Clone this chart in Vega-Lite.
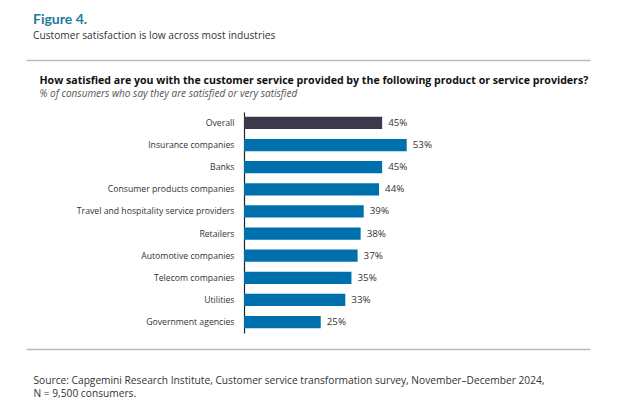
{
  "$schema": "https://vega.github.io/schema/vega-lite/v6.json",
  "autosize": {"type": "none"},
  "padding": {"left": 26, "top": 60, "right": 40, "bottom": 63},
  "width": 564,
  "height": 289,
  "background": "white",
  "config": {"view": {"stroke": null}, "font": "Open Sans"},
  "title": {
    "text": "Figure 4.",
    "subtitle": "Customer satisfaction is low across most industries",
    "anchor": "start",
    "frame": "group",
    "dx": 7,
    "offset": 19,
    "font": "Lato",
    "fontSize": 14,
    "fontWeight": "bold",
    "color": "#1a7aa0",
    "subtitleFont": "Open Sans",
    "subtitleFontSize": 10.2,
    "subtitleColor": "#333333",
    "subtitlePadding": 4
  },
  "data": {
    "values": [
      {"cat": "Overall", "value": 45, "label": "45%", "kind": "overall"},
      {"cat": "Insurance companies", "value": 53, "label": "53%", "kind": "industry"},
      {"cat": "Banks", "value": 45, "label": "45%", "kind": "industry"},
      {"cat": "Consumer products companies", "value": 44, "label": "44%", "kind": "industry"},
      {"cat": "Travel and hospitality service providers", "value": 39, "label": "39%", "kind": "industry"},
      {"cat": "Retailers", "value": 38, "label": "38%", "kind": "industry"},
      {"cat": "Automotive companies", "value": 37, "label": "37%", "kind": "industry"},
      {"cat": "Telecom companies", "value": 35, "label": "35%", "kind": "industry"},
      {"cat": "Utilities", "value": 33, "label": "33%", "kind": "industry"},
      {"cat": "Government agencies", "value": 25, "label": "25%", "kind": "industry"}
    ]
  },
  "encoding": {
    "y": {
      "field": "cat",
      "type": "nominal",
      "sort": null,
      "scale": {"range": [52, 273], "paddingInner": 0.45, "paddingOuter": 0.22},
      "axis": {
        "orient": "left",
        "offset": -218,
        "domainColor": "#222222",
        "domainWidth": 1.2,
        "ticks": false,
        "labelPadding": 10,
        "labelFontSize": 8.7,
        "labelColor": "#333333",
        "labelFont": "Open Sans",
        "title": "% of consumers who say they are satisfied or very satisfied",
        "titleAngle": 0,
        "titleX": -205,
        "titleY": 36,
        "titleAlign": "left",
        "titleBaseline": "alphabetic",
        "titleFont": "Open Sans",
        "titleFontSize": 10,
        "titleFontStyle": "italic",
        "titleFontWeight": "normal",
        "titleColor": "#555555"
      }
    }
  },
  "layer": [
    {
      "mark": {"type": "bar"},
      "encoding": {
        "color": {
          "field": "kind",
          "type": "nominal",
          "scale": {"domain": ["overall", "industry"], "range": ["#3a3a4c", "#0070ad"]},
          "legend": null
        },
        "x": {
          "field": "value",
          "type": "quantitative",
          "scale": {"domain": [-71, 112.7], "nice": false},
          "axis": {
            "orient": "bottom",
            "domain": true,
            "domainColor": "#bbbbbb",
            "domainWidth": 1.5,
            "ticks": false,
            "labels": false,
            "grid": false,
            "title": ["Source: Capgemini Research Institute, Customer service transformation survey, November–December 2024,", "N = 9,500 consumers."],
            "titleX": 7,
            "titleY": 34,
            "titleAlign": "left",
            "titleAnchor": "start",
            "titleBaseline": "alphabetic",
            "titleFont": "Open Sans",
            "titleFontSize": 10.2,
            "titleFontWeight": "normal",
            "titleColor": "#333333",
            "titleLineHeight": 13
          }
        }
      }
    },
    {
      "mark": {"type": "text", "align": "left", "baseline": "middle", "dx": 6, "font": "Open Sans", "fontSize": 9.8, "color": "#333333"},
      "encoding": {
        "text": {"field": "label"},
        "x": {
          "field": "value",
          "type": "quantitative",
          "scale": {"domain": [-71, 112.7], "nice": false},
          "axis": {
            "orient": "top",
            "domain": true,
            "domainColor": "#bbbbbb",
            "domainWidth": 1.5,
            "ticks": false,
            "labels": false,
            "grid": false,
            "title": "How satisfied are you with the customer service provided by the following product or service providers?",
            "titleX": 13,
            "titleY": 23,
            "titleAlign": "left",
            "titleAnchor": "start",
            "titleBaseline": "alphabetic",
            "titleFont": "Open Sans",
            "titleFontSize": 10.6,
            "titleFontWeight": "bold",
            "titleColor": "#111111"
          }
        }
      }
    }
  ]
}
